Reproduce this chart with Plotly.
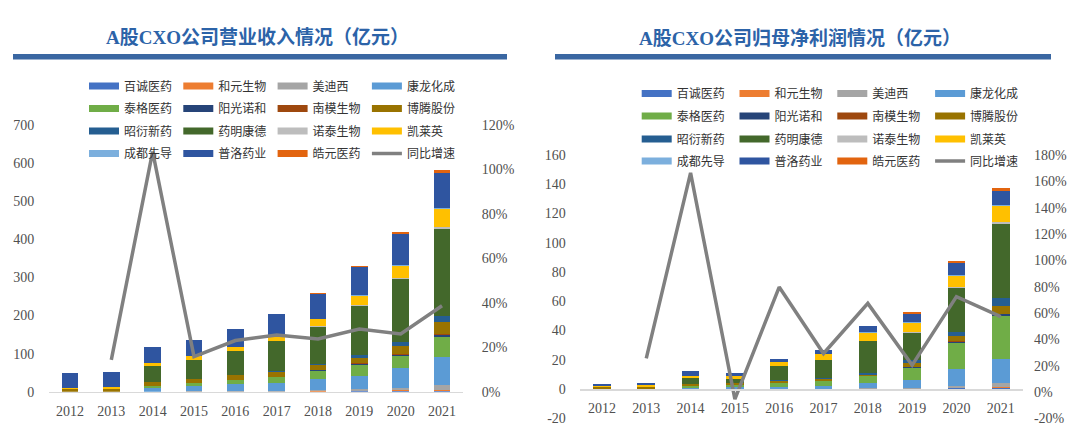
import plotly.graph_objects as go

W, H = 1080, 434

years = ["2012", "2013", "2014", "2015", "2016", "2017", "2018", "2019", "2020", "2021"]

names = ["百诚医药", "和元生物", "美迪西", "康龙化成", "泰格医药", "阳光诺和", "南模生物", "博腾股份",
         "昭衍新药", "药明康德", "诺泰生物", "凯莱英", "成都先导", "普洛药业", "皓元医药"]
colors = ["#4472C4", "#ED7D31", "#A5A5A5", "#5B9BD5", "#70AD47", "#264478", "#9E480E", "#997300",
          "#255E91", "#43682B", "#BDBDBD", "#FFC000", "#7CAFDD", "#2F55A0", "#E2640F"]
line_name = "同比增速"

# 营业收入 (亿元)
rev_baicheng = [0, 0, 0, 0, 0, 0, 0.5, 1.0, 1.6, 2.7]
rev_heyuan = [0, 0, 0, 0, 0, 0, 0.8, 1.3, 1.9, 2.5]
rev_medicilon = [0, 0, 0, 1.5, 2.0, 2.7, 3.2, 4.5, 6.7, 11.6]
rev_pharmaron = [0, 0, 10, 13, 17.4, 20, 28, 35, 51.3, 74.4]
rev_tigermed = [0, 0, 6, 8, 12.3, 17.1, 23.0, 28.0, 31.9, 52.1]
rev_sunshine = [0, 0, 0, 0, 0, 0, 1.2, 2.3, 3.3, 4.9]
rev_nanmo = [0, 0, 0, 0, 0, 0, 1.5, 2.0, 2.4, 3.8]
rev_porton = [6, 7, 9, 11, 11, 11.4, 10.6, 15.5, 20.7, 30.9]
rev_joinn = [0, 0, 0, 0, 2.2, 3.1, 4.1, 6.4, 10.8, 15.2]
rev_wuxi = [0, 0, 42, 50, 61, 77.7, 96.1, 128.7, 165.4, 229.0]
rev_nuotai = [0, 0, 0, 0, 0, 0, 2.5, 3.0, 3.5, 6.5]
rev_asymchem = [5, 6, 8, 9, 12.1, 14.2, 18.3, 24.6, 31.5, 46.4]
rev_hitgen = [0, 0, 0, 0, 0, 0, 1.5, 2.5, 2.8, 3.3]
rev_apeloa = [37, 40, 42, 42, 47, 58, 65, 72, 79, 89.6]
rev_haoyuan = [0, 0, 0, 0, 0, 0, 2.0, 3.0, 6.4, 9.7]
rev_growth = [None, 0.143, 1.08, 0.158, 0.23, 0.255, 0.237, 0.282, 0.26, 0.387]

# 归母净利润 (亿元)
np_baicheng = [0, 0, 0, 0, 0, 0, 0.1, 0.2, 0.4, 0.6]
np_heyuan = [0, 0, 0, 0, 0, 0, 0.1, 0.1, 0.3, 0.5]
np_medicilon = [0, 0, 0, 0.1, 0.2, 0.3, 0.4, 0.7, 1.6, 2.8]
np_pharmaron = [0, 0, 0.5, 1.0, 1.5, 1.9, 3.4, 5.5, 11.7, 16.6]
np_tigermed = [0, 0, 1.3, 1.5, 2.7, 3.6, 4.7, 8.2, 17.5, 29.2]
np_sunshine = [0, 0, 0, 0, 0, 0, 0.1, 0.4, 0.7, 1.3]
np_nanmo = [0, 0, 0, 0, 0, 0, 0.1, 0.3, 0.6, 0.5]
np_porton = [1.1, 1.4, 1.6, 1.2, 1.2, 0.8, 0.9, 2.3, 3.3, 5.2]
np_joinn = [0, 0, 0, 0, 0.5, 0.8, 1.4, 1.9, 3.2, 5.3]
np_wuxi = [0, 0, 4.0, 3.2, 9.5, 12.3, 21.5, 18.5, 29.6, 51.0]
np_nuotai = [0, 0, 0, 0, 0, 0, 0.3, 0.6, 1.0, 1.3]
np_asymchem = [0.7, 1.4, 1.5, 1.8, 2.7, 4.1, 5.4, 6.7, 7.2, 10.7]
np_hitgen = [0, 0, 0, 0, 0, 0, 0.3, 0.3, 0.6, 0.7]
np_apeloa = [1.4, 1.5, 3.2, 2.5, 2.5, 2.6, 4.3, 5.8, 8.2, 9.8]
np_haoyuan = [0, 0, 0, 0, 0, 0, 0.4, 0.9, 1.9, 1.9]
np_growth = [None, 0.255, 1.664, -0.054, 0.797, 0.292, 0.673, 0.204, 0.724, 0.573]

rev_series = [rev_baicheng, rev_heyuan, rev_medicilon, rev_pharmaron, rev_tigermed, rev_sunshine,
              rev_nanmo, rev_porton, rev_joinn, rev_wuxi, rev_nuotai, rev_asymchem, rev_hitgen,
              rev_apeloa, rev_haoyuan]
np_series = [np_baicheng, np_heyuan, np_medicilon, np_pharmaron, np_tigermed, np_sunshine,
             np_nanmo, np_porton, np_joinn, np_wuxi, np_nuotai, np_asymchem, np_hitgen,
             np_apeloa, np_haoyuan]

titles = ["A股CXO公司营业收入情况（亿元）", "A股CXO公司归母净利润情况（亿元）"]
rev_ticks = list(range(0, 701, 100))
rev_pct_ticks = [0, 0.2, 0.4, 0.6, 0.8, 1.0, 1.2]
np_ticks = list(range(-20, 161, 20))
np_pct_ticks = [-0.2, 0, 0.2, 0.4, 0.6, 0.8, 1.0, 1.2, 1.4, 1.6, 1.8]

LINE_COLOR = "#808080"
TICK_FONT = dict(family="Liberation Serif", size=14, color="#505050")
LEG_FONT = dict(family="Noto Sans CJK SC", size=12, color="#333333")
TITLE_COLOR = "#2C63A8"
BAR_COLOR = "#3A67A2"


def px(v):
    return v / W


def py(v):
    return 1 - v / H


fig = go.Figure()

panels = [
    dict(series=rev_series, growth=rev_growth, xa="x", ya="y", ya2="y2", legends=["legend", "legend2", "legend3", "legend4"]),
    dict(series=np_series, growth=np_growth, xa="x2", ya="y3", ya2="y4", legends=["legend5", "legend6", "legend7", "legend8"]),
]

for p in panels:
    for i, (nm, col, vals) in enumerate(zip(names, colors, p["series"])):
        fig.add_trace(go.Bar(x=years, y=vals, name=nm, marker=dict(color=col, line=dict(width=0)),
                             width=0.4, xaxis=p["xa"], yaxis=p["ya"], showlegend=False,
                             legendgroup=p["xa"] + nm, hoverinfo="skip"))
    fig.add_trace(go.Scatter(x=years, y=p["growth"], name=line_name, mode="lines",
                             line=dict(color=LINE_COLOR, width=3.5), xaxis=p["xa"], yaxis=p["ya2"],
                             showlegend=False, legendgroup=p["xa"] + line_name, hoverinfo="skip"))
    # legend entries (4 rows x 4 columns)
    entries = list(zip(names, colors, [7] * 15)) + [(line_name, LINE_COLOR, 3.5)]
    for k, (nm, col, lw) in enumerate(entries):
        fig.add_trace(go.Scatter(x=[None], y=[None], name=nm, mode="lines",
                                 line=dict(color=col, width=lw), xaxis=p["xa"], yaxis=p["ya"],
                                 legend=p["legends"][k // 4], legendgroup=p["xa"] + nm,
                                 showlegend=True, hoverinfo="skip"))

# axes geometry (pixels)
L_x0, L_x1, L_ytop, L_ybot = 49.3, 462.7, 125.0, 391.7
R_x0, R_x1, R_ytop, R_ybot = 579.8, 1022.9, 155.0, 418.3
r_zero_frac = (0 - (-20)) / 180.0
r_zero_paper = py(R_ybot) + r_zero_frac * (py(R_ytop) - py(R_ybot))

axis_common = dict(showgrid=False, zeroline=False, tickfont=TICK_FONT, ticks="", automargin=False)

fig.update_layout(
    template="none",
    width=W, height=H,
    margin=dict(l=0, r=0, t=0, b=0, autoexpand=False),
    paper_bgcolor="white", plot_bgcolor="rgba(0,0,0,0)",
    barmode="stack",
    showlegend=True,
    xaxis=dict(domain=[px(L_x0), px(L_x1)], anchor="y", type="category",
               showline=True, linecolor="#D9D9D9", linewidth=1.5, ticklabelstandoff=6, **axis_common),
    yaxis=dict(domain=[py(L_ybot), py(L_ytop)], anchor="x", range=[0, 700],
               tickvals=rev_ticks, ticktext=[str(v) for v in rev_ticks], ticklabelstandoff=14, **axis_common),
    yaxis2=dict(overlaying="y", side="right", anchor="x", range=[0, 1.2],
                tickvals=rev_pct_ticks, ticktext=[f"{round(v*100)}%" for v in rev_pct_ticks],
                ticklabelstandoff=18, **axis_common),
    xaxis2=dict(domain=[px(R_x0), px(R_x1)], anchor="free", position=r_zero_paper, type="category",
                showline=True, linecolor="#D9D9D9", linewidth=1.5, ticklabelstandoff=6, **axis_common),
    yaxis3=dict(domain=[py(R_ybot), py(R_ytop)], anchor="x2", range=[-20, 160],
                tickvals=np_ticks, ticktext=[str(v) for v in np_ticks], ticklabelstandoff=13, **axis_common),
    yaxis4=dict(overlaying="y3", side="right", anchor="x2", range=[-0.2, 1.8],
                tickvals=np_pct_ticks, ticktext=[f"{round(v*100)}%" for v in np_pct_ticks],
                ticklabelstandoff=10, **axis_common),
)

leg_common = dict(orientation="h", xanchor="left", yanchor="middle", font=LEG_FONT,
                  bgcolor="rgba(0,0,0,0)", borderwidth=0, itemwidth=30,
                  entrywidthmode="pixels", traceorder="normal", tracegroupgap=0,
                  itemclick=False, itemdoubleclick=False)

left_rows = [86, 108.5, 131, 153.5]
right_rows = [93.5, 116, 139, 161]
for j, yv in enumerate(left_rows):
    key = "legend" if j == 0 else f"legend{j+1}"
    fig.update_layout({key: dict(x=px(89 - 5), y=py(yv), entrywidth=49.3, **leg_common)})
for j, yv in enumerate(right_rows):
    key = f"legend{j+5}"
    fig.update_layout({key: dict(x=px(641.7 - 5), y=py(yv), entrywidth=52.8, **leg_common)})

# titles and blue rules
title_specs = [(titles[0], 257, 13, 507), (titles[1], 800, 555, 1051)]
for txt, cx, x0, x1 in title_specs:
    fig.add_annotation(text=f"<b>{txt}</b>", x=px(cx), y=py(38), xref="paper", yref="paper",
                       showarrow=False, xanchor="center", yanchor="middle",
                       font=dict(family="Liberation Serif, Noto Sans CJK SC", size=19, color=TITLE_COLOR))
    fig.add_shape(type="rect", xref="paper", yref="paper", x0=px(x0), x1=px(x1), y0=py(59.5), y1=py(54),
                  fillcolor=BAR_COLOR, line=dict(width=0), layer="above")

fig.write_html("out.html", config={"displayModeBar": False, "staticPlot": True},
               post_script="document.body.style.margin='0px'; document.body.style.overflow='hidden';")
